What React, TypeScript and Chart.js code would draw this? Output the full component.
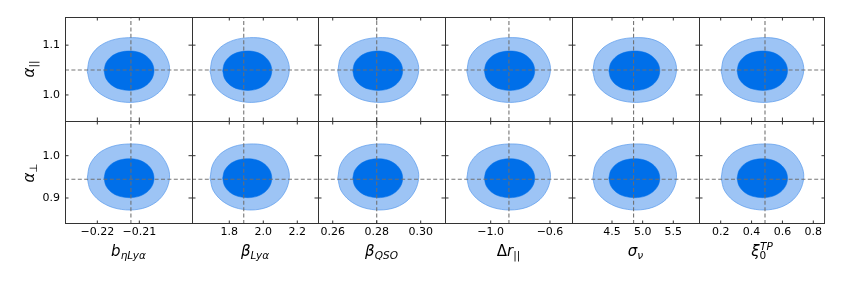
import React, { useEffect, useRef } from 'react';
import { Chart, registerables } from 'chart.js';

Chart.register(...registerables);

// ---------- data ----------
// columns: parameters on the x axes
const xMin = [-0.2277, 1.5806, 0.2533, -1.3082, 3.8475, 0.0594];
const xMax = [-0.19745, 2.3218, 0.31105, -0.4516, 5.9193, 0.8758];
const xTicks = [[-0.22, -0.21], [1.8, 2.0, 2.2], [0.26, 0.28, 0.3], [-1.0, -0.6], [4.5, 5.0, 5.5], [0.2, 0.4, 0.6, 0.8]];
const xTickLabels = [['−0.22', '−0.21'], ['1.8', '2.0', '2.2'], ['0.26', '0.28', '0.30'], ['−1.0', '−0.6'], ['4.5', '5.0', '5.5'], ['0.2', '0.4', '0.6', '0.8']];
const xFiducial = [-0.212, 1.885, 0.28, -0.877, 4.852, 0.487];
const xOuterLo = [-0.2224, 1.687, 0.2623, -1.161, 4.187, 0.203];
const xOuterHi = [-0.2028, 2.153, 0.2991, -0.597, 5.552, 0.738];
const xInnerLo = [-0.2184, 1.761, 0.2691, -1.043, 4.448, 0.306];
const xInnerHi = [-0.2065, 2.05, 0.2918, -0.703, 5.28, 0.633];
const xLabelBase = ['b', 'β', 'β', 'Δr', 'σ', 'ξ'];
const xLabelSub = ['ηLyα', 'Lyα', 'QSO', '||', 'ν', '0'];
const xLabelSup = ['', '', '', '', '', 'TP'];

// rows: alpha_parallel (top), alpha_perp (bottom)
const yMin = [0.9477, 0.8385];
const yMax = [1.1565, 1.082];
const yTicks = [[1.0, 1.1], [0.9, 1.0]];
const yTickLabels = [['1.0', '1.1'], ['0.9', '1.0']];
const yFiducial = [1.05, 0.9442];
const yOuterLo = [0.985, 0.8716];
const yOuterHi = [1.115, 1.0277];
const yInnerLo = [1.0091, 0.9007];
const yInnerHi = [1.0883, 0.9929];
const yLabelBase = ['α', 'α'];
const yLabelSub = ['||', '⊥'];

// contour outlines: fractional position inside each contour's extent
// s: 0 = left edge .. 1 = right edge ; t: 0 = top edge .. 1 = bottom edge
const outerS = [0, 0.032, 0.135, 0.3, 0.5, 0.7, 0.855, 0.955, 1.0, 0.972, 0.875, 0.72, 0.52, 0.31, 0.145, 0.038];
const outerT = [0.52, 0.315, 0.145, 0.038, 0, 0.022, 0.12, 0.28, 0.46, 0.66, 0.84, 0.958, 1.0, 0.962, 0.855, 0.7];
const innerS = [0, 0.038, 0.146, 0.309, 0.51, 0.7, 0.86, 0.965, 1.0, 0.965, 0.86, 0.7, 0.51, 0.309, 0.146, 0.038];
const innerT = [0.5, 0.305, 0.14, 0.035, 0, 0.035, 0.145, 0.31, 0.5, 0.69, 0.855, 0.965, 1.0, 0.965, 0.86, 0.695];

// ---------- layout / style ----------
const colEdges = [65, 192, 318, 445, 572, 699, 825];
const rowEdges = [17, 121, 224];
const outerColor = '#9dc4f5';
const outerEdge = 'rgba(90,155,235,0.9)';
const innerColor = '#006fe9';
const dashColor = 'rgba(110,110,110,0.95)';
const frameColor = '#333333';
const FONT = "'DejaVu Sans', sans-serif";

function makeFrame(c: number, r: number) {
  return {
    id: 'frame',
    afterDatasetsDraw(chart: any) {
      const { ctx, chartArea } = chart;
      const { left, right, top, bottom } = chartArea;
      const xs = chart.scales.x;
      const ys = chart.scales.y;
      ctx.save();
      ctx.strokeStyle = frameColor;
      ctx.lineWidth = 1;
      ctx.beginPath();
      ctx.moveTo(left + 0.5, top);
      ctx.lineTo(left + 0.5, bottom);
      ctx.moveTo(left, top + 0.5);
      ctx.lineTo(right, top + 0.5);
      if (c === 5) {
        ctx.moveTo(right - 0.5, top);
        ctx.lineTo(right - 0.5, bottom);
      }
      if (r === 1) {
        ctx.moveTo(left, bottom - 0.5);
        ctx.lineTo(right, bottom - 0.5);
      }
      const tl = 3.5;
      xTicks[c].forEach((v) => {
        const px = xs.getPixelForValue(v);
        ctx.moveTo(px, bottom);
        ctx.lineTo(px, bottom - tl);
        ctx.moveTo(px, top);
        ctx.lineTo(px, top + tl);
      });
      yTicks[r].forEach((v) => {
        const py = ys.getPixelForValue(v);
        ctx.moveTo(left, py);
        ctx.lineTo(left + tl, py);
        ctx.moveTo(right, py);
        ctx.lineTo(right - tl, py);
      });
      ctx.stroke();
      ctx.restore();
    },
  };
}

function outline(sArr: number[], tArr: number[], xlo: number, xhi: number, ylo: number, yhi: number) {
  const pts = sArr.map((s, i) => ({ x: xlo + s * (xhi - xlo), y: yhi - tArr[i] * (yhi - ylo) }));
  pts.push(pts[0]);
  return pts;
}

function zeroPadding(s: any) {
  s.paddingTop = 0;
  s.paddingBottom = 0;
  s.paddingLeft = 0;
  s.paddingRight = 0;
}

function Panel({ c, r }: { c: number; r: number }) {
  const ref = useRef<HTMLCanvasElement>(null);
  const axisW = c === 0 ? 50 : 0;
  const axisH = r === 1 ? 24 : 0;
  const plotW = colEdges[c + 1] - colEdges[c];
  const plotH = rowEdges[r + 1] - rowEdges[r];
  const W = axisW + plotW;
  const H = plotH + axisH;

  useEffect(() => {
    if (!ref.current) return;
    const outer = outline(outerS, outerT, xOuterLo[c], xOuterHi[c], yOuterLo[r], yOuterHi[r]);
    const inner = outline(innerS, innerT, xInnerLo[c], xInnerHi[c], yInnerLo[r], yInnerHi[r]);
    const vline = [{ x: xFiducial[c], y: yMin[r] }, { x: xFiducial[c], y: yMax[r] }];
    const hline = [{ x: xMin[c], y: yFiducial[r] }, { x: xMax[c], y: yFiducial[r] }];
    const dashStyle = {
      showLine: true,
      borderColor: dashColor,
      borderWidth: 1.1,
      borderDash: [4, 2.4],
      pointRadius: 0,
      fill: false,
      order: 1,
    };
    const chart = new Chart(ref.current, {
      type: 'scatter',
      data: {
        datasets: [
          { ...dashStyle, data: vline },
          { ...dashStyle, data: hline },
          {
            data: inner,
            showLine: true,
            fill: 'shape',
            backgroundColor: innerColor,
            borderColor: innerColor,
            borderWidth: 0.5,
            pointRadius: 0,
            tension: 0.33,
            order: 2,
          },
          {
            data: outer,
            showLine: true,
            fill: 'shape',
            backgroundColor: outerColor,
            borderColor: outerEdge,
            borderWidth: 0.8,
            pointRadius: 0,
            tension: 0.33,
            order: 3,
          },
        ] as any,
      },
      options: {
        animation: false,
        responsive: false,
        maintainAspectRatio: false,
        events: [],
        layout: { padding: 0, autoPadding: false } as any,
        plugins: { legend: { display: false }, tooltip: { enabled: false } },
        scales: {
          x: {
            type: 'linear',
            min: xMin[c],
            max: xMax[c],
            bounds: 'data',
            grid: { display: false, drawTicks: false },
            border: { display: false },
            afterBuildTicks: (s: any) => {
              s.ticks = xTicks[c].map((v) => ({ value: v }));
            },
            afterFit: (s: any) => {
              s.height = axisH;
              zeroPadding(s);
            },
            ticks: {
              display: r === 1,
              autoSkip: false,
              maxRotation: 0,
              minRotation: 0,
              padding: 2,
              color: '#000',
              font: { family: FONT, size: 11 },
              callback: (_v: any, i: number) => xTickLabels[c][i],
            },
          },
          y: {
            type: 'linear',
            min: yMin[r],
            max: yMax[r],
            bounds: 'data',
            grid: { display: false, drawTicks: false },
            border: { display: false },
            afterBuildTicks: (s: any) => {
              s.ticks = yTicks[r].map((v) => ({ value: v }));
            },
            afterFit: (s: any) => {
              s.width = axisW;
              zeroPadding(s);
            },
            ticks: {
              display: c === 0,
              autoSkip: false,
              padding: 5,
              color: '#000',
              font: { family: FONT, size: 11 },
              callback: (_v: any, i: number) => yTickLabels[r][i],
            },
          },
        } as any,
      },
      plugins: [makeFrame(c, r)],
    } as any);
    return () => chart.destroy();
  }, [c, r]);

  return (
    <canvas
      ref={ref}
      width={W}
      height={H}
      style={{ position: 'absolute', left: colEdges[c] - axisW, top: rowEdges[r], width: W, height: H }}
    />
  );
}

const UPRIGHT = 'Δ|0⊥';
function mathText(s: string) {
  return Array.from(s).map((ch, i) =>
    UPRIGHT.includes(ch) ? (
      <span key={i} style={{ fontStyle: 'normal' }}>{ch}</span>
    ) : (
      <span key={i} style={{ fontStyle: 'italic' }}>{ch}</span>
    )
  );
}

function MathLabel({ base, sub, sup }: { base: string; sub: string; sup: string }) {
  return (
    <>
      {mathText(base)}
      <span style={{ fontSize: '0.7em', position: 'relative', top: '0.32em' }}>{mathText(sub)}</span>
      {sup ? (
        <span style={{ fontSize: '0.7em', position: 'relative', top: '-0.6em', marginLeft: '-0.6em' }}>{mathText(sup)}</span>
      ) : null}
    </>
  );
}

export default function App() {
  const panels: React.ReactNode[] = [];
  for (let r = 0; r < 2; r++) {
    for (let c = 0; c < 6; c++) {
      panels.push(<Panel key={`${r}-${c}`} c={c} r={r} />);
    }
  }
  return (
    <div
      style={{
        position: 'absolute',
        left: 0,
        top: 0,
        width: 843,
        height: 281,
        background: '#fff',
        overflow: 'hidden',
        fontFamily: FONT,
        color: '#000',
      }}
    >
      {panels}
      {xLabelBase.map((b, c) => (
        <div
          key={'xl' + c}
          style={{
            position: 'absolute',
            left: (colEdges[c] + colEdges[c + 1]) / 2,
            top: 244,
            transform: 'translateX(-50%)',
            fontSize: 15,
            lineHeight: '15px',
            whiteSpace: 'nowrap',
          }}
        >
          <MathLabel base={b} sub={xLabelSub[c]} sup={xLabelSup[c]} />
        </div>
      ))}
      {yLabelBase.map((b, r) => (
        <div
          key={'yl' + r}
          style={{
            position: 'absolute',
            left: 30,
            top: (rowEdges[r] + rowEdges[r + 1]) / 2,
            transform: 'translate(-50%, -50%) rotate(-90deg)',
            fontSize: 15,
            lineHeight: '15px',
            whiteSpace: 'nowrap',
          }}
        >
          <MathLabel base={b} sub={yLabelSub[r]} sup="" />
        </div>
      ))}
    </div>
  );
}
